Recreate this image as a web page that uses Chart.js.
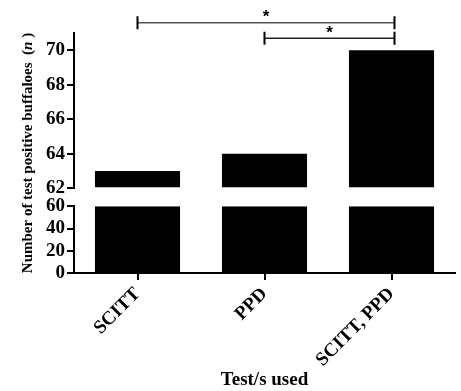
<!DOCTYPE html>
<html>
<head>
<meta charset="utf-8">
<title>Test positive buffaloes</title>
<script src="https://cdn.jsdelivr.net/npm/chart.js"></script>
<style>
  body{margin:0;background:#fff}
  #wrap{width:461px;height:391px}
</style>
</head>
<body>
<div id="wrap"><canvas id="chart"></canvas></div>
<script>
const labels     = ['SCITT', 'PPD', 'SCITT, PPD'];
const positives  = [63, 64, 70];
const upperTicks = [62, 64, 66, 68, 70];
const lowerTicks = [0, 20, 40, 60];
const pairs      = [[0, 2], [1, 2]];
const pairMarks  = ['*', '*'];

// axis break: lower part 0..60, upper part 62..71
const BREAK_LO = 60, BREAK_HI = 62, TOP_MAX = 71;
const serif = '"Liberation Serif", "Times New Roman", serif';

const yAxis = (min, max, ticks, weight, stackWeight) => ({
  type:'linear', position:'left', stack:'y', weight, stackWeight, min, max,
  afterBuildTicks: s => { s.ticks = ticks.map(v => ({ value:v })); },
  afterFit: s => { s.width = 64; },
  ticks:{ color:'#000', padding:2, autoSkip:false, font:{ family:serif, size:19, weight:'bold' } },
  grid:{ drawOnChartArea:false, color:'#000', lineWidth:2, tickLength:7 },
  border:{ color:'#000', width:2 }
});

const annot = {
  id:'annot',
  afterDraw(chart){
    const { ctx, chartArea, scales:{ x, yTop } } = chart;

    // y title with italic n
    const bold = `bold 15px ${serif}`, ital = `italic bold 15px ${serif}`;
    const parts = [['Number of test positive buffaloes  (', bold], ['n', ital], [' )', bold]];
    ctx.save();
    ctx.translate(28, (chartArea.top + chartArea.bottom) / 2);
    ctx.rotate(-Math.PI / 2);
    ctx.fillStyle = '#000';
    ctx.textBaseline = 'middle';
    let total = 0;
    parts.forEach(([t, f]) => { ctx.font = f; total += ctx.measureText(t).width; });
    let px = -total / 2;
    parts.forEach(([t, f]) => { ctx.font = f; ctx.fillText(t, px, 0); px += ctx.measureText(t).width; });
    ctx.restore();

    // significance brackets
    const barTop = yTop.getPixelForValue(Math.max(...positives));
    ctx.save();
    pairs.forEach(([a, b], i) => {
      const level = pairs.length - 1 - i;
      const y = barTop - 12 - level * 15.5;
      const x1 = x.getPixelForValue(a), x2 = x.getPixelForValue(b) + 3;
      ctx.strokeStyle = level ? '#555' : '#222';
      ctx.lineWidth = 1.6;
      ctx.beginPath();
      ctx.moveTo(x1, y); ctx.lineTo(x2, y);
      ctx.stroke();
      ctx.strokeStyle = '#000';
      ctx.lineWidth = 2;
      ctx.beginPath();
      ctx.moveTo(x1, y - 6.5); ctx.lineTo(x1, y + 6.5);
      ctx.moveTo(x2, y - 6.5); ctx.lineTo(x2, y + 6.5);
      ctx.stroke();
      ctx.fillStyle = '#000';
      ctx.font = 'bold 17px "Liberation Sans", sans-serif';
      ctx.textAlign = 'center';
      ctx.textBaseline = 'middle';
      ctx.fillText(pairMarks[i], (x1 + x2) / 2, y - 5);
    });
    ctx.restore();
  }
};

new Chart(document.getElementById('chart'), {
  type:'bar',
  data:{
    labels,
    datasets:[
      { data:positives.map(v => Math.min(v, BREAK_LO)), yAxisID:'yBot',
        backgroundColor:'#000', grouped:false, categoryPercentage:1, barPercentage:0.67 },
      { data:positives, yAxisID:'yTop', base:BREAK_HI,
        backgroundColor:'#000', grouped:false, categoryPercentage:1, barPercentage:0.67 }
    ]
  },
  options:{
    responsive:true,
    maintainAspectRatio:false,
    animation:false,
    layout:{ padding:{ left:10, right:6, top:33, bottom:0 } },
    plugins:{ legend:{ display:false }, tooltip:{ enabled:false } },
    scales:{
      x:{
        offset:true,
        afterFit: s => { s.height = 118; },
        grid:{ offset:false, drawOnChartArea:false, color:'#000', lineWidth:2, tickLength:7 },
        border:{ color:'#000', width:2 },
        ticks:{ color:'#000', padding:3, autoSkip:false, minRotation:45, maxRotation:45,
                font:{ family:serif, size:19, weight:'bold' } },
        title:{ display:true, text:'Test/s used', color:'#000', padding:{ top:0, bottom:0 },
                font:{ family:serif, size:19, weight:'bold' } }
      },
      yTop: yAxis(BREAK_HI, TOP_MAX, upperTicks, 3, 156),
      yGap: { type:'linear', display:false, stack:'y', weight:2, stackWeight:18 },
      yBot: yAxis(0, BREAK_LO, lowerTicks, 1, 67)
    }
  },
  plugins:[annot]
});
</script>
</body>
</html>
